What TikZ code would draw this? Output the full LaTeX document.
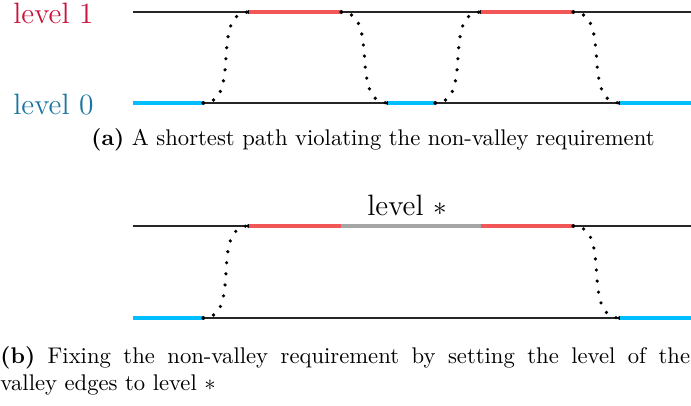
\documentclass[tikz,border=0pt]{standalone}
\usepackage{amssymb}
\definecolor{lvlone}{RGB}{200,20,60}
\definecolor{lvlzero}{RGB}{26,118,160}
\definecolor{edgered}{RGB}{242,87,87}
\definecolor{edgeblue}{RGB}{0,190,255}
\definecolor{edgegray}{RGB}{166,166,166}
\tikzset{
  levelline/.style={line width=0.45pt, black!85},
  redseg/.style={line width=2.2pt, edgered},
  blueseg/.style={line width=2.2pt, edgeblue},
  grayseg/.style={line width=2.2pt, edgegray},
  hop/.style={line width=1.6pt, line cap=round, dash pattern=on 0pt off 4.9pt},
  vtx/.style={circle, fill=black, inner sep=0pt, minimum size=1.8pt},
  lvllabel/.style={font=\fontsize{13}{15}\selectfont, inner sep=0pt, anchor=west},
}
\begin{document}
\begin{tikzpicture}[x=0.4415pt, y=-0.4415pt]
\useasboundingbox (0,0) rectangle (691,406);

% ---------- (a) path with a valley ----------
\coordinate (a1L) at (133,12);  \coordinate (a1R) at (691,12);
\coordinate (a0L) at (133,103); \coordinate (a0R) at (691,103);
\draw[levelline] (a1L) -- (a1R);
\draw[levelline] (a0L) -- (a0R);

\node[lvllabel, text=lvlone]  (l1) at (13,13.5) {level 1};
\node[lvllabel, text=lvlzero] (l0) at (13,105) {level 0};

\node[vtx] (p1) at (203,103) {};
\node[vtx] (p2) at (249,12) {};
\node[vtx] (p3) at (341,12) {};
\node[vtx] (p4) at (388,103) {};
\node[vtx] (p5) at (435,103) {};
\node[vtx] (p6) at (481,12) {};
\node[vtx] (p7) at (573,12) {};
\node[vtx] (p8) at (620,103) {};

\draw[blueseg] (a0L) -- (p1.center);
\draw[redseg]  (p2.center) -- (p3.center);
\draw[blueseg] (p4.center) -- (p5.center);
\draw[redseg]  (p6.center) -- (p7.center);
\draw[blueseg] (p8.center) -- (a0R);

\draw[hop] (p1.center) to[out=0,in=180] (p2.center);
\draw[hop] (p3.center) to[out=0,in=180] (p4.center);
\draw[hop] (p5.center) to[out=0,in=180] (p6.center);
\draw[hop] (p7.center) to[out=0,in=180] (p8.center);

\node[inner sep=0pt] (capa) at (373,140)
  {\textbf{(a)} A shortest path violating the non-valley requirement};

% ---------- (b) valley lifted to level * ----------
\coordinate (b1L) at (133,226); \coordinate (b1R) at (691,226);
\coordinate (b0L) at (133,318); \coordinate (b0R) at (691,318);
\draw[levelline] (b1L) -- (b1R);
\draw[levelline] (b0L) -- (b0R);

\node[vtx] (q1) at (203,318) {};
\node[vtx] (q2) at (249,226) {};
\node[vtx] (q3) at (341,226) {};
\node[vtx] (q4) at (481,226) {};
\node[vtx] (q5) at (573,226) {};
\node[vtx] (q6) at (620,318) {};

\draw[blueseg] (b0L) -- (q1.center);
\draw[redseg]  (q2.center) -- (q3.center);
\draw[grayseg] (q3.center) -- (q4.center);
\draw[redseg]  (q4.center) -- (q5.center);
\draw[blueseg] (q6.center) -- (b0R);

\draw[hop] (q1.center) to[out=0,in=180] (q2.center);
\draw[hop] (q5.center) to[out=0,in=180] (q6.center);

\node[lvllabel] (ls) at (367,205) {level $*$};

\node[inner sep=0pt, anchor=north west, text width=304.5pt, align=justify] (capb) at (0,346)
  {\textbf{(b)} Fixing the non-valley requirement by setting the level of the\linebreak valley edges to level $*$};
\end{tikzpicture}
\end{document}
